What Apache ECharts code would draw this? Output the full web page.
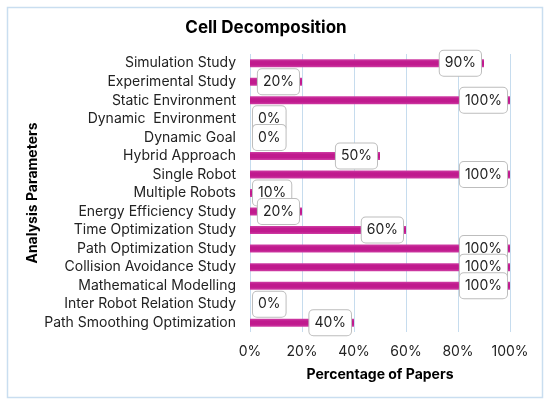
<!DOCTYPE html>
<html lang="en">
<head>
    <meta charset="UTF-8">
    <title>Cell Decomposition</title>
    <script src="https://cdn.jsdelivr.net/npm/echarts@6.0.0/dist/echarts.min.js"></script>
    <style>
        html, body { margin: 0; padding: 0; background: #fff; }
    </style>
</head>
<body>
<div id="main" style="width: 550px;height:406px;"></div>

<script type="text/javascript">

    var categories = [
        'Simulation Study',
        'Experimental Study',
        'Static Environment',
        'Dynamic  Environment',
        'Dynamic Goal',
        'Hybrid Approach',
        'Single Robot',
        'Multiple Robots',
        'Energy Efficiency Study',
        'Time Optimization Study',
        'Path Optimization Study',
        'Collision Avoidance Study',
        'Mathematical Modelling',
        'Inter Robot Relation Study',
        'Path Smoothing Optimization'
    ];

    var percentages = [90, 20, 100, 0, 0, 50, 100, 10, 20, 60, 100, 100, 100, 0, 40];

    var xTicks = [0, 20, 40, 60, 80, 100];

    var font = 'Inter, "Open Sans", sans-serif';

    // short bars have no room for the label box, so it starts at the axis instead
    var barData = percentages.map(function (v) {
        return {
            value: v,
            label: v <= 10 ? {position: 'insideLeft', distance: 3} : {position: 'insideRight', distance: 3}
        };
    });

    var myChart = echarts.init(document.getElementById('main'));

    var option = {
        backgroundColor: '#fff',
        animation: false,
        title: {
            text: 'Cell Decomposition',
            left: 261,
            top: 14,
            textAlign: 'center',
            textStyle: {
                fontFamily: font,
                fontSize: 17,
                fontWeight: 'bold',
                color: '#000'
            }
        },
        graphic: [{
            type: 'rect',
            shape: {x: 7.5, y: 7.5, width: 535, height: 390},
            style: {fill: 'none', stroke: '#c9def0', lineWidth: 1.5},
            silent: true
        }],
        grid: {
            left: 250,
            right: 40,
            top: 54,
            bottom: 74,
            containLabel: false
        },
        xAxis: {
            type: 'value',
            min: 0,
            max: 100,
            interval: 20,
            name: 'Percentage of Papers',
            nameLocation: 'middle',
            nameGap: 36,
            nameTextStyle: {
                fontFamily: font,
                fontSize: 14,
                fontWeight: 'bold',
                color: '#000'
            },
            axisLine: {show: false},
            axisTick: {show: false},
            axisLabel: {
                margin: 13,
                fontFamily: font,
                fontSize: 14,
                color: '#222',
                formatter: function (v) {
                    return xTicks.indexOf(v) >= 0 ? v + '%' : '';
                }
            },
            splitLine: {
                show: true,
                lineStyle: {color: '#c6dcee', width: 1}
            }
        },
        yAxis: {
            type: 'category',
            data: categories,
            inverse: true,
            name: 'Analysis Parameters',
            nameLocation: 'middle',
            nameGap: 210,
            nameRotate: 90,
            nameTextStyle: {
                fontFamily: font,
                fontSize: 14,
                fontWeight: 'bold',
                color: '#000'
            },
            axisLine: {show: false},
            axisTick: {show: false},
            axisLabel: {
                margin: 14,
                fontFamily: font,
                fontSize: 14,
                color: '#222'
            },
            splitLine: {show: false}
        },
        series: [
            {
                name: 'Percentage',
                type: 'bar',
                data: barData,
                barWidth: 8,
                itemStyle: {
                    color: new echarts.graphic.LinearGradient(0, 0, 0, 1, [
                        {offset: 0, color: '#cf3fa5'},
                        {offset: 0.3, color: '#c01a8e'},
                        {offset: 0.7, color: '#c01a8e'},
                        {offset: 1, color: '#cf3fa5'}
                    ])
                },
                label: {
                    show: true,
                    formatter: '{c}%',
                    fontFamily: font,
                    fontSize: 14,
                    color: '#222',
                    backgroundColor: '#fff',
                    borderColor: '#bdbdbd',
                    borderWidth: 1,
                    borderRadius: 4,
                    padding: [5, 5, 4, 5],
                    lineHeight: 16
                },
                z: 2
            }
        ]
    };

    myChart.setOption(option);

</script>
</body>
</html>
